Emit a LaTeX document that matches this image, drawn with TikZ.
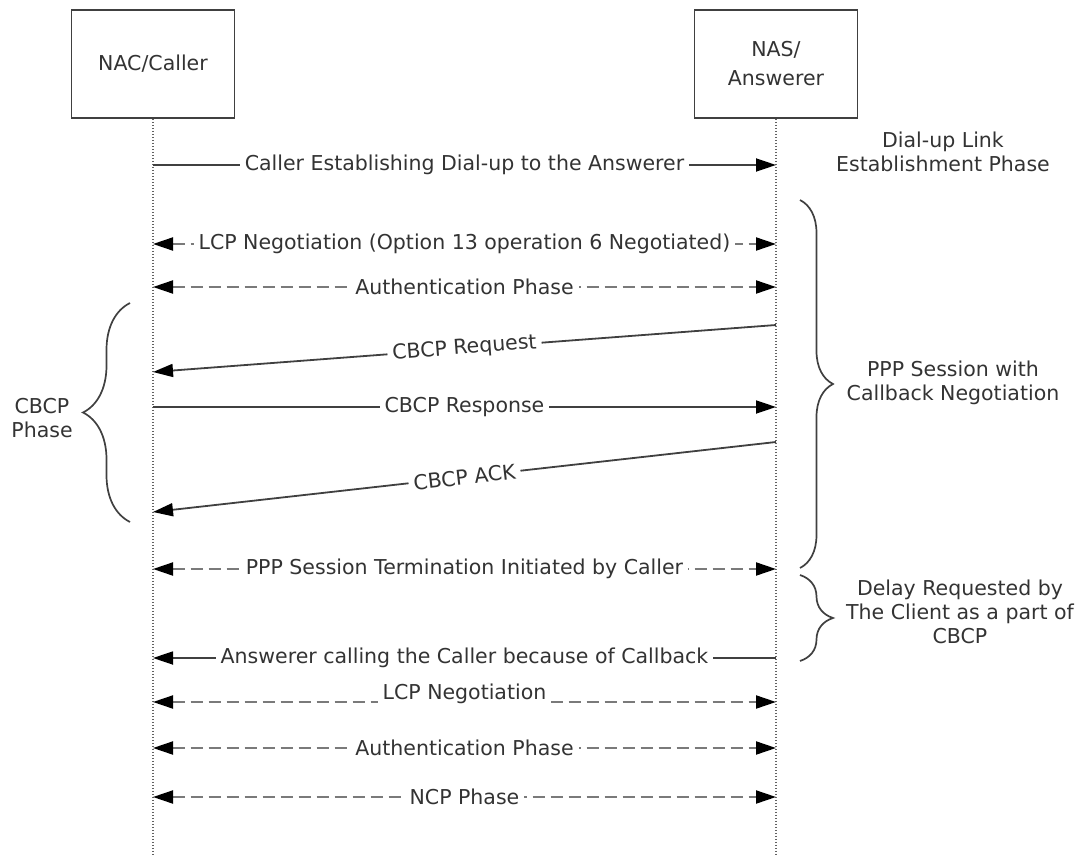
\documentclass[tikz,border=0pt]{standalone}
\usepackage{fontspec}
\setmainfont{DejaVu Sans}
\usetikzlibrary{positioning,arrows.meta,decorations.pathreplacing}
\definecolor{textgray}{HTML}{333333}
\definecolor{linegray}{HTML}{404040}
\definecolor{dashgray}{HTML}{7A7A7A}

\begin{document}
\begin{tikzpicture}[%
    x=1pt,
    y=-1pt,
    >={Triangle[length=20pt,width=13pt,color=black]},
    every node/.style={font=\fontsize{20.5}{24}\selectfont, text=textgray},
    actor/.style={%
      rectangle,
      draw=linegray,
      line width=1.6pt,
      minimum width=163pt,
      minimum height=108pt,
      align=center
    },
    lifeline/.style={%
      draw=dashgray!80!black,
      line width=1.6pt,
      dash pattern=on 1.5pt off 1.5pt
    },
    solidmsg/.style={%
      draw=linegray,
      line width=1.8pt
    },
    dashmsg/.style={%
      draw=dashgray,
      line width=2pt,
      dash pattern=on 12pt off 6pt
    },
    lbl/.style={%
      fill=white,
      inner sep=5pt
    },
    phase/.style={%
      align=center,
      inner sep=0pt
    },
    curly/.style={%
      draw=linegray,
      line width=1.7pt,
      decorate,
      decoration={brace,amplitude=#1}
    }
  ]
    \useasboundingbox (0,0) rectangle (1082,856);

    % participants
    \node[actor] (caller) at (153,64)  {NAC/Caller};
    \node[actor] (nas)    at (776,64)  {NAS/\\[5pt]Answerer};

    \coordinate (callerfoot) at (153,856);
    \coordinate (nasfoot)    at (776,856);
    \draw[lifeline] (caller.south) -- (callerfoot);
    \draw[lifeline] (nas.south) -- (nasfoot);

    % message ends on the lifelines
    \coordinate (c1)  at (153,165);  \coordinate (n1)  at (776,165);
    \coordinate (c2)  at (153,244);  \coordinate (n2)  at (776,244);
    \coordinate (c3)  at (153,287);  \coordinate (n3)  at (776,287);
    \coordinate (c4)  at (153,372);  \coordinate (n4)  at (776,325);
    \coordinate (c5)  at (153,407);  \coordinate (n5)  at (776,407);
    \coordinate (c6)  at (153,512);  \coordinate (n6)  at (776,442);
    \coordinate (c7)  at (153,569);  \coordinate (n7)  at (776,569);
    \coordinate (c8)  at (153,658);  \coordinate (n8)  at (776,658);
    \coordinate (c9)  at (153,702);  \coordinate (n9)  at (776,702);
    \coordinate (c10) at (153,748);  \coordinate (n10) at (776,748);
    \coordinate (c11) at (153,797);  \coordinate (n11) at (776,797);

    \path (c1) edge [solidmsg,->]  node[lbl] {Caller Establishing Dial-up to the Answerer} (n1)
          (c2) edge [dashmsg,<->]  node[lbl] {LCP Negotiation (Option 13 operation 6 Negotiated)} (n2)
          (c3) edge [dashmsg,<->]  node[lbl] {Authentication Phase} (n3)
          (n4) edge [solidmsg,->]  node[lbl,sloped] {CBCP Request} (c4)
          (c5) edge [solidmsg,->]  node[lbl] {CBCP Response} (n5)
          (n6) edge [solidmsg,->]  node[lbl,sloped] {CBCP ACK} (c6)
          (c7) edge [dashmsg,<->]  node[lbl] {PPP Session Termination Initiated by Caller} (n7)
          (n8) edge [solidmsg,->]  node[lbl] {Answerer calling the Caller because of Callback} (c8)
          (c9) edge [dashmsg,<->]  node[lbl,yshift=8pt] {LCP Negotiation} (n9)
          (c10) edge [dashmsg,<->] node[lbl] {Authentication Phase} (n10)
          (c11) edge [dashmsg,<->] node[lbl] {NCP Phase} (n11)
          ;

    % phases
    \node[phase] (dialup) at (943,152) {Dial-up Link\\Establishment Phase};

    \draw[curly=33pt] (800,200) -- (800,568);
    \node[phase] (ppp) at (953,383) {PPP Session with\\Callback Negotiation};

    \draw[curly=33pt] (800,575) -- (800,661);
    \node[phase] (delay) at (960,612) {Delay Requested by\\The Client as a part of\\CBCP};

    \draw[curly=47pt] (130,522) -- (130,303);
    \node[phase] (cbcp) at (42,418) {CBCP\\Phase};
\end{tikzpicture}
\end{document}
